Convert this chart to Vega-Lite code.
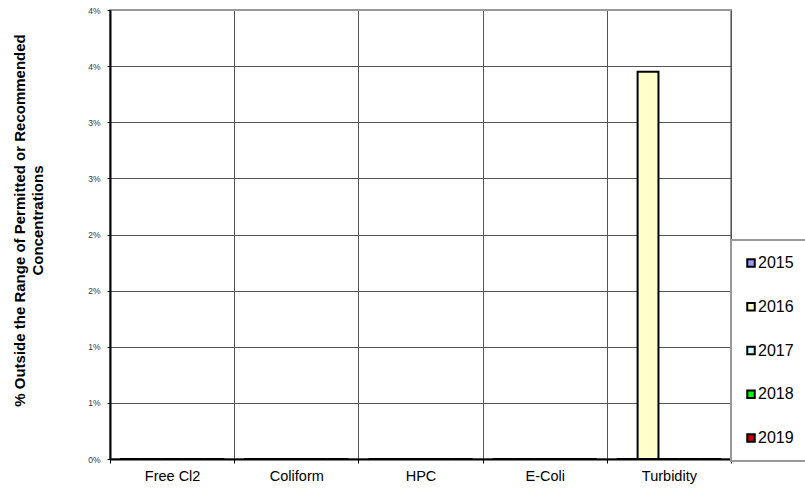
{
  "$schema": "https://vega.github.io/schema/vega-lite/v6.json",
  "width": 621,
  "height": 449,
  "autosize": {"type": "none"},
  "padding": {"left": 110, "top": 10, "right": 74, "bottom": 31},
  "background": "white",
  "config": {
    "font": "Liberation Sans",
    "view": {"stroke": "#999999", "strokeWidth": 2}
  },
  "data": {
    "values": [
      {"parameter": "Free Cl2", "year": "2015", "pct": 0},
      {"parameter": "Free Cl2", "year": "2016", "pct": 0},
      {"parameter": "Free Cl2", "year": "2017", "pct": 0},
      {"parameter": "Free Cl2", "year": "2018", "pct": 0},
      {"parameter": "Free Cl2", "year": "2019", "pct": 0},
      {"parameter": "Coliform", "year": "2015", "pct": 0},
      {"parameter": "Coliform", "year": "2016", "pct": 0},
      {"parameter": "Coliform", "year": "2017", "pct": 0},
      {"parameter": "Coliform", "year": "2018", "pct": 0},
      {"parameter": "Coliform", "year": "2019", "pct": 0},
      {"parameter": "HPC", "year": "2015", "pct": 0},
      {"parameter": "HPC", "year": "2016", "pct": 0},
      {"parameter": "HPC", "year": "2017", "pct": 0},
      {"parameter": "HPC", "year": "2018", "pct": 0},
      {"parameter": "HPC", "year": "2019", "pct": 0},
      {"parameter": "E-Coli", "year": "2015", "pct": 0},
      {"parameter": "E-Coli", "year": "2016", "pct": 0},
      {"parameter": "E-Coli", "year": "2017", "pct": 0},
      {"parameter": "E-Coli", "year": "2018", "pct": 0},
      {"parameter": "E-Coli", "year": "2019", "pct": 0},
      {"parameter": "Turbidity", "year": "2015", "pct": 0},
      {"parameter": "Turbidity", "year": "2016", "pct": 0.0345},
      {"parameter": "Turbidity", "year": "2017", "pct": 0},
      {"parameter": "Turbidity", "year": "2018", "pct": 0},
      {"parameter": "Turbidity", "year": "2019", "pct": 0}
    ]
  },
  "mark": {"type": "bar", "stroke": "black", "strokeWidth": 2},
  "encoding": {
    "x": {
      "field": "parameter",
      "type": "nominal",
      "sort": ["Free Cl2", "Coliform", "HPC", "E-Coli", "Turbidity"],
      "scale": {"paddingInner": 0, "paddingOuter": 0},
      "axis": {
        "title": null,
        "labelAngle": 0,
        "labelFontSize": 14.5,
        "labelColor": "black",
        "labelPadding": 6,
        "labelBaseline": "top",
        "tickBand": "extent",
        "tickSize": 4,
        "tickColor": "black",
        "domainColor": "black",
        "domainWidth": 2,
        "grid": true,
        "gridColor": "#555555",
        "gridWidth": 1
      }
    },
    "xOffset": {
      "field": "year",
      "type": "nominal",
      "scale": {"paddingInner": 0, "paddingOuter": 0.476}
    },
    "y": {
      "field": "pct",
      "type": "quantitative",
      "scale": {"domain": [0, 0.04], "nice": false},
      "axis": {
        "values": [0, 0.005, 0.01, 0.015, 0.02, 0.025, 0.03, 0.035, 0.04],
        "labelExpr": "ceil(round(datum.value * 1000) / 10) + '%'",
        "labelFontSize": 8.5,
        "labelColor": "#333333",
        "labelPadding": 7,
        "tickSize": 3,
        "tickColor": "black",
        "domainColor": "black",
        "domainWidth": 2,
        "grid": true,
        "gridColor": {"condition": {"test": "datum.value >= 0.04", "value": "#999999"}, "value": "#555555"},
        "gridWidth": 1,
        "title": ["% Outside the Range of Permitted or Recommended", "Concentrations"],
        "titleFontSize": 15,
        "titleFontWeight": "bold",
        "titleColor": "black",
        "titleAngle": 270,
        "titleAlign": "center",
        "titleBaseline": "alphabetic",
        "titleLineHeight": 18,
        "titleX": -86,
        "titleY": 210
      }
    },
    "color": {
      "field": "year",
      "type": "nominal",
      "scale": {
        "domain": ["2015", "2016", "2017", "2018", "2019"],
        "range": ["#9999FF", "#FFFFCC", "#CCFFFF", "#00FF00", "#CC0000"]
      },
      "legend": {
        "title": null,
        "orient": "none",
        "legendX": 621,
        "legendY": 230,
        "direction": "vertical",
        "symbolType": "square",
        "symbolSize": 56,
        "symbolStrokeColor": "black",
        "symbolStrokeWidth": 2,
        "symbolOpacity": 1,
        "symbolOffset": -3,
        "labelFontSize": 16,
        "labelColor": "black",
        "labelOffset": -1,
        "rowPadding": 27.75,
        "padding": 15,
        "strokeColor": "#999999",
        "fillColor": "white",
        "encode": {"legend": {"update": {"strokeWidth": {"value": 2}}}}
      }
    }
  }
}
